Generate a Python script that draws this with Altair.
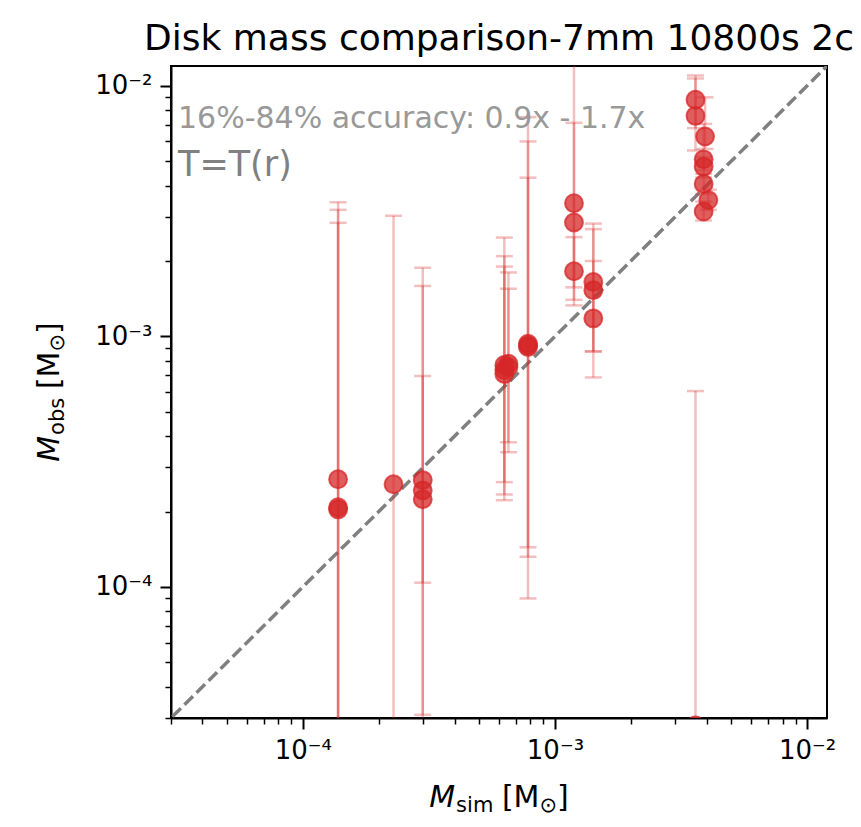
import altair as alt
import pandas as pd

# ---------------- data ----------------
x_sim = [1.38e-4, 1.38e-4, 1.38e-4, 2.29e-4, 2.99e-4, 2.99e-4, 2.99e-4,
         6.30e-4, 6.30e-4, 6.30e-4, 6.54e-4, 6.54e-4, 7.82e-4, 7.82e-4, 7.82e-4,
         1.19e-3, 1.19e-3, 1.19e-3, 1.42e-3, 1.42e-3, 1.42e-3,
         3.61e-3, 3.61e-3, 3.94e-3, 3.89e-3, 3.89e-3, 3.89e-3, 4.06e-3, 3.89e-3, 3.61e-3]
y_obs = [2.69e-4, 2.08e-4, 2.04e-4, 2.57e-4, 2.67e-4, 2.43e-4, 2.24e-4,
         7.69e-4, 7.34e-4, 7.08e-4, 7.78e-4, 7.55e-4, 9.35e-4, 9.20e-4, 9.07e-4,
         3.40e-3, 2.85e-3, 1.82e-3, 1.65e-3, 1.53e-3, 1.18e-3,
         8.80e-3, 7.59e-3, 6.28e-3, 5.09e-3, 4.76e-3, 4.06e-3, 3.50e-3, 3.15e-3, 2.8e-5]
y_lo = [1e-6, 1e-6, 1e-6, 1e-6, 1e-6, 1.04e-4, 3.09e-5,
        2.62e-4, 2.34e-4, 2.22e-4, 3.78e-4, 3.45e-4, 1.44e-4, 1.32e-4, 9.0e-5,
        1.57e-3, 1.40e-3, 1.33e-3, 8.71e-4, 8.71e-4, 6.86e-4,
        6.78e-3, 5.52e-3, 5.6e-3, 4.6e-3, 4.3e-3, 3.7e-3, 3.2e-3, 2.9e-3, 1e-6]
y_hi = [3.43e-3, 3.20e-3, 2.84e-3, 3.03e-3, 1.88e-3, 1.59e-3, 6.95e-4,
        2.48e-3, 2.09e-3, 1.90e-3, 1.80e-3, 1.55e-3, 6.0e-3, 4.30e-3, 7.5e-3,
        2e-2, 7.12e-3, 2.49e-3, 2.82e-3, 2.68e-3, 2.00e-3,
        1.10e-2, 1.07e-2, 9.0e-3, 7.05e-3, 5.2e-3, 4.45e-3, 3.85e-3, 3.45e-3, 6.05e-4]

diag = [1e-6, 1.0]
domain = [3e-5, 1.2e-2]
tick_vals = [round(m * 10.0 ** e, 12) for e in (-5, -4, -3, -2) for m in range(1, 10)
             if 2.99e-5 <= m * 10.0 ** e <= 1.2e-2]

title_text = "Disk mass comparison-7mm 10800s 2c"
acc_text = "16%-84% accuracy: 0.9x - 1.7x"
temp_text = "T=T(r)"

df = pd.DataFrame({"x": x_sim, "y": y_obs, "lo": y_lo, "hi": y_hi})
ddf = pd.DataFrame({"v": diag})

RED = "#d62728"
FONT = "DejaVu Sans"
W, H = 656, 652

is_major = "abs(log(datum.value)/LN10 - round(log(datum.value)/LN10)) < 0.001"
label_expr = ("abs(log(datum.value)/LN10 + 2) < 0.01 ? '10⁻²' : "
              "abs(log(datum.value)/LN10 + 3) < 0.01 ? '10⁻³' : "
              "abs(log(datum.value)/LN10 + 4) < 0.01 ? '10⁻⁴' : ''")


def make_axis(pad):
    return alt.Axis(values=tick_vals, labelExpr=label_expr, grid=False, title=None,
                    labelFont=FONT, labelFontSize=26, labelColor="black",
                    labelOverlap=False, labelFlush=False, labelBound=False,
                    labelPadding=pad,
                    tickColor="black",
                    tickSize={"condition": {"test": is_major, "value": 11}, "value": 6},
                    tickWidth={"condition": {"test": is_major, "value": 2}, "value": 1.5},
                    domainColor="black", domainWidth=2)


xs = alt.Scale(type="log", domain=domain, nice=False)
ys = alt.Scale(type="log", domain=domain, nice=False)
xax = make_axis(8)
yax = make_axis(8)


def X(f):
    return alt.X(f"{f}:Q", scale=xs, axis=xax, title=None)


def Y(f):
    return alt.Y(f"{f}:Q", scale=ys, axis=yax, title=None)


diag_line = alt.Chart(ddf).mark_line(
    color="#808080", strokeWidth=3.5, strokeDash=[12, 5], clip=True
).encode(x=X("v"), y=Y("v"))

bars = alt.Chart(df).mark_rule(color=RED, opacity=0.3, strokeWidth=2.5, clip=True).encode(
    x=X("x"), y=Y("lo"), y2="hi:Q")

caps_lo = alt.Chart(df).mark_tick(color=RED, opacity=0.3, orient="horizontal", size=17,
                                  thickness=2.5, clip=True).encode(x=X("x"), y=Y("lo"))
caps_hi = alt.Chart(df).mark_tick(color=RED, opacity=0.3, orient="horizontal", size=17,
                                  thickness=2.5, clip=True).encode(x=X("x"), y=Y("hi"))

points = alt.Chart(df).mark_circle(size=320, color=RED, fillOpacity=0.75, stroke=RED,
                                   strokeOpacity=0.75, strokeWidth=2, clip=True).encode(
    x=X("x"), y=Y("y"))


def txt(text, x, y, dx=0, dy=0, size=30, style="normal", color="black", angle=0,
        align="left"):
    return alt.Chart(pd.DataFrame({"t": [text]})).mark_text(
        align=align, baseline="alphabetic", dx=dx, dy=dy, fontSize=size,
        fontStyle=style, font=FONT, color=color, angle=angle
    ).encode(x=alt.value(x), y=alt.value(y), text="t:N")


title = txt(title_text, W / 2, -16, size=36, align="center")
acc = txt(acc_text, 7, 62, size=30, color="#999999")
temp = txt(temp_text, 7, 110, size=35, color="#808080")

# axis titles built from pieces (M italic with subscripts)
S, SS, SUB = 30, 21, 5
wM = 0.863 * S
w_sub = 1.773 * SS
w_sp = 0.318 * S
w_br = 1.253 * S
w_sun = 0.838 * SS
w_end = 0.390 * S
tot = wM + w_sub + w_sp + w_br + w_sun + w_end


def axis_title(sub, x, y, angle):
    o1 = wM + 1
    o2 = wM + w_sub + w_sp
    o3 = o2 + w_br
    o4 = o3 + w_sun
    return [
        txt("M", x, y, dx=0, size=S, style="italic", angle=angle),
        txt(sub, x, y, dx=o1, dy=SUB, size=SS, angle=angle),
        txt("[M", x, y, dx=o2, size=S, angle=angle),
        txt("⊙", x, y, dx=o3, dy=SUB, size=SS, angle=angle),
        txt("]", x, y, dx=o4, size=S, angle=angle),
    ]


xt = axis_title("sim", W / 2 - tot / 2, 741, 0)
yt = axis_title("obs", -112, H / 2 + tot / 2, 270)

chart = alt.layer(diag_line, bars, caps_lo, caps_hi, points, acc, temp, title,
                  *xt, *yt).properties(
    width=W, height=H,
    autosize=alt.AutoSizeParams(type="none"),
    padding={"left": 163, "top": 58, "right": 26, "bottom": 101},
).configure(font=FONT).configure_view(stroke="black", strokeWidth=2)

chart.save("out.html", embed_options={"renderer": "svg", "actions": False})
